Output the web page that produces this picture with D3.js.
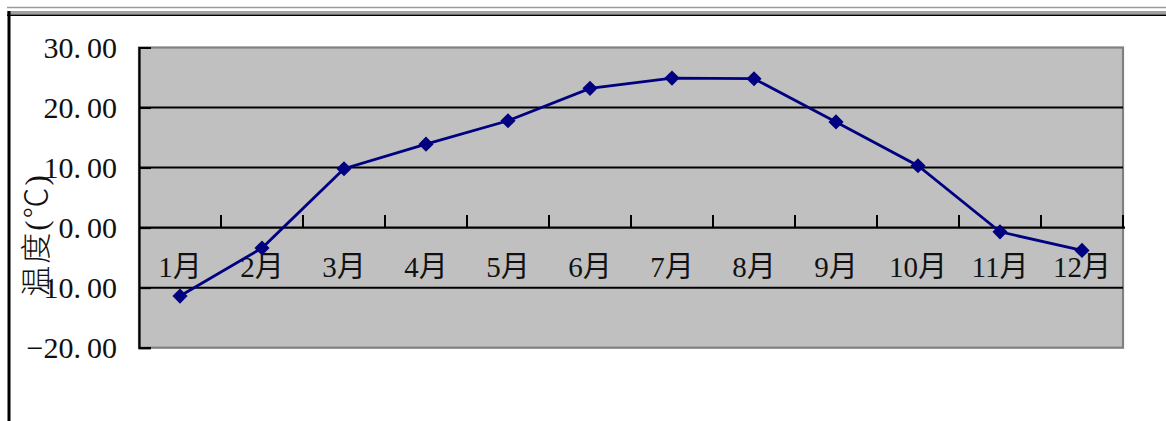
<!DOCTYPE html>
<html>
<head>
<meta charset="utf-8">
<script src="https://cdn.jsdelivr.net/npm/d3@7"></script>
<style>
  html, body { margin: 0; padding: 0; background: #fff; }
  svg { display: block; }
  text { font-family: "Liberation Serif", "Noto Sans CJK SC", serif; fill: #111; }
</style>
</head>
<body>
<svg id="chart" width="1166" height="421"></svg>
<script>
const months = ["1月","2月","3月","4月","5月","6月","7月","8月","9月","10月","11月","12月"];
const temps = [-11.4, -3.4, 9.8, 13.9, 17.8, 23.2, 24.9, 24.8, 17.6, 10.3, -0.7, -3.8];
const yTicks = [30, 20, 10, 0, -10, -20];
const yTitle = "温度(℃)";

const svg = d3.select("#chart");
const W = 1166, H = 421;
const plot = { left: 139, right: 1123, top: 47.5, bottom: 347.7 };

// outer frame lines
svg.append("line").attr("x1", 7).attr("x2", W).attr("y1", 7.5).attr("y2", 7.5)
  .attr("stroke", "#9a9a9a").attr("stroke-width", 1.6);
svg.append("rect").attr("x", 7).attr("y", 11).attr("width", W - 7).attr("height", 3.5).attr("fill", "#a0a0a0");
svg.append("line").attr("x1", 7).attr("x2", W).attr("y1", 15.2).attr("y2", 15.2)
  .attr("stroke", "#000").attr("stroke-width", 1.6);
svg.append("line").attr("x1", 9).attr("x2", 9).attr("y1", 11).attr("y2", H)
  .attr("stroke", "#000").attr("stroke-width", 3);

const x = d3.scaleBand().domain(months).range([plot.left, plot.right]).padding(0);
const y = d3.scaleLinear().domain([-20, 30]).range([plot.bottom, plot.top]);

// plot background
svg.append("rect")
  .attr("x", plot.left).attr("y", plot.top)
  .attr("width", plot.right - plot.left).attr("height", plot.bottom - plot.top)
  .attr("fill", "#c0c0c0").attr("stroke", "#808080").attr("stroke-width", 2.2);

// gridlines
svg.append("g").selectAll("line")
  .data(yTicks.filter(v => v !== 30 && v !== -20 && v !== 0))
  .join("line")
  .attr("x1", plot.left).attr("x2", plot.right)
  .attr("y1", d => y(d)).attr("y2", d => y(d))
  .attr("stroke", "#000").attr("stroke-width", 2);

// y axis
const yAxis = d3.axisLeft(y).tickValues(yTicks).tickSize(-12).tickPadding(22)
  .tickFormat(d3.format(".2f"));
const gy = svg.append("g").attr("transform", `translate(${plot.left},0)`).call(yAxis);
gy.select(".domain").attr("stroke", "#000").attr("stroke-width", 2.2);
gy.selectAll(".tick line").attr("stroke", "#000").attr("stroke-width", 2);
gy.selectAll(".tick text").attr("font-size", 30).attr("fill", "#111")
  .attr("font-family", "Liberation Serif")
  .each(function() {
    const t = d3.select(this);
    const s = t.text();
    const i = s.indexOf(".");
    t.text(null);
    t.append("tspan").text(s.slice(0, i + 1));
    t.append("tspan").attr("dx", 6).text(s.slice(i + 1));
  });

// x axis at zero: line + boundary ticks
const y0 = y(0);
const bounds = months.map(m => x(m)).concat([x.range()[1]]);
const gx = svg.append("g").attr("transform", `translate(0,${y0})`);
gx.append("line").attr("x1", plot.left).attr("x2", plot.right + 2)
  .attr("stroke", "#000").attr("stroke-width", 2.2);
gx.selectAll("line.b").data(bounds.slice(1)).join("line").attr("class", "b")
  .attr("x1", d => d).attr("x2", d => d).attr("y1", 0).attr("y2", -12.5)
  .attr("stroke", "#000").attr("stroke-width", 2);

const xAxis = d3.axisBottom(x).tickSize(0).tickPadding(29);
const gxl = svg.append("g").attr("transform", `translate(0,${y0})`).call(xAxis);
gxl.select(".domain").remove();
gxl.selectAll(".tick text").attr("font-size", 29).attr("fill", "#111")
  .attr("font-family", "Liberation Serif, Noto Sans CJK SC");

// line
const line = d3.line().x((d, i) => x(months[i]) + x.bandwidth() / 2).y(d => y(d));
svg.append("path").datum(temps).attr("d", line)
  .attr("fill", "none").attr("stroke", "#000080").attr("stroke-width", 2.8);

// markers
const sym = d3.symbol().type(d3.symbolSquare).size(115);
svg.append("g").selectAll("path").data(temps).join("path")
  .attr("d", sym)
  .attr("transform", (d, i) => `translate(${x(months[i]) + x.bandwidth() / 2},${y(d)}) rotate(45)`)
  .attr("fill", "#000080");

// y title
svg.append("text")
  .attr("transform", "translate(47,235) rotate(-90)")
  .attr("text-anchor", "middle")
  .attr("font-size", 31)
  .attr("font-family", "Noto Sans CJK SC")
  .attr("font-weight", 300)
  .attr("letter-spacing", 2)
  .attr("fill", "#222")
  .text(yTitle);
</script>
</body>
</html>
